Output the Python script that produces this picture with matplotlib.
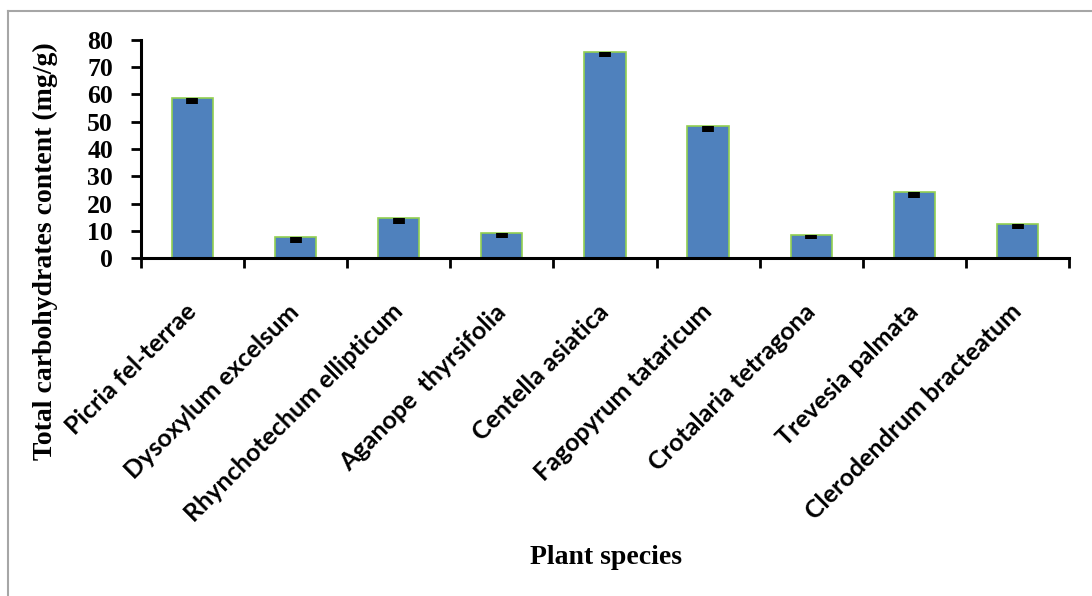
import matplotlib
matplotlib.use('Agg')
import matplotlib.pyplot as plt
from matplotlib.lines import Line2D
import numpy as np

species = ['Picria fel-terrae', 'Dysoxylum excelsum', 'Rhynchotechum ellipticum',
           'Aganope  thyrsifolia', 'Centella asiatica', 'Fagopyrum tataricum',
           'Crotalaria tetragona', 'Trevesia palmata', 'Clerodendrum bracteatum']
carbs = [58.6, 7.7, 14.6, 9.2, 75.6, 48.4, 8.4, 24.1, 12.5]
err_low = [2.0, 2.0, 2.0, 2.0, 2.0, 2.0, 1.5, 2.0, 2.0]
err_high = [0.1] * 9
yticks = [0, 10, 20, 30, 40, 50, 60, 70, 80]

fig = plt.figure(figsize=(10.92, 5.96), dpi=100)
ax = fig.add_axes([0.129, 0.567, 0.850, 0.366])

x = np.arange(len(species))
ax.bar(x, carbs, width=0.4, color='#4F81BD', edgecolor='#92D050', linewidth=1.2, zorder=2)
ax.errorbar(x, carbs, yerr=[err_low, err_high], fmt='none', ecolor='black',
            elinewidth=8.5, capsize=0, zorder=3)

ax.set_xlim(-0.5, len(species) - 0.5)
ax.set_ylim(0, 80)
ax.set_yticks(yticks)
ax.set_yticklabels([str(v) for v in yticks], fontfamily='Liberation Serif',
                   fontweight='bold', fontsize=18.5)

# category boundary ticks
ax.set_xticks(np.arange(len(species) + 1) - 0.5)
ax.set_xticklabels([])
ax.tick_params(axis='x', direction='out', length=7, width=2)
ax.tick_params(axis='y', direction='out', length=7, width=2, pad=13)
ax.set_xticks(x, minor=True)
ax.set_xticklabels(species, minor=True, rotation=45, ha='right', va='center',
                   rotation_mode='anchor', fontfamily='Lato', fontweight='bold',
                   fontsize=18)
ax.tick_params(axis='x', which='minor', length=0, pad=36)

for s in ['top', 'right']:
    ax.spines[s].set_visible(False)
for s in ['left', 'bottom']:
    ax.spines[s].set_linewidth(2.2)
    ax.spines[s].set_color('black')

fig.text(0.042, 1 - 251 / 596, 'Total carbohydrates content (mg/g)', rotation=90,
         ha='center', va='center', fontfamily='Liberation Serif', fontweight='bold',
         fontsize=20)
fig.text(0.555, 1 - 558 / 596, 'Plant species', ha='center', va='center',
         fontfamily='Liberation Serif', fontweight='bold', fontsize=20)

# outer chart border (only top and left visible in the crop)
fig.add_artist(Line2D([0.0073, 1.0], [1 - 11 / 596, 1 - 11 / 596], transform=fig.transFigure,
                      color='#A6A6A6', linewidth=1.5))
fig.add_artist(Line2D([0.0073, 0.0073], [0.0, 1 - 11 / 596], transform=fig.transFigure,
                      color='#A6A6A6', linewidth=1.5))

fig.savefig('out.png', dpi=100)
